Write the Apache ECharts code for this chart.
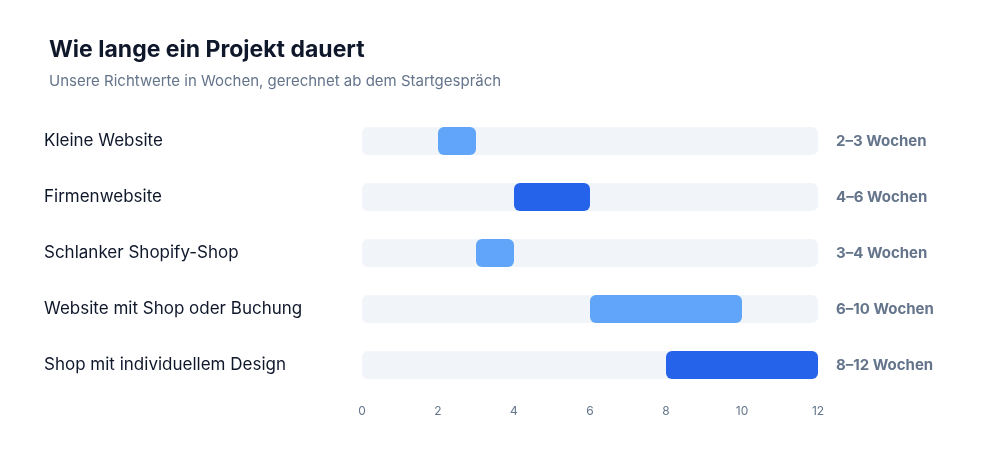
<!DOCTYPE html>
<html><head><meta charset="utf-8">
<script src="https://cdn.jsdelivr.net/npm/echarts@6/dist/echarts.min.js"></script>
<style>html,body{margin:0;background:#fff}#c{width:1000px;height:450px}</style>
</head><body><div id="c"></div>
<script>
const categories = ['Kleine Website','Firmenwebsite','Schlanker Shopify-Shop','Website mit Shop oder Buchung','Shop mit individuellem Design'];
const startWeeks = [2,4,3,6,8];
const endWeeks = [3,6,4,10,12];
const tones = ['light','dark','light','light','dark'];
const rangeLabels = ['2–3 Wochen','4–6 Wochen','3–4 Wochen','6–10 Wochen','8–12 Wochen'];
const maxWeeks = 12;
const toneColor = {light:'#60a5fa', dark:'#2563eb'};
const F = 'Inter, "Noto Sans", sans-serif';
const chart = echarts.init(document.getElementById('c'));
chart.setOption({
  animation:false,
  textStyle:{fontFamily:F},
  title:{left:44, top:34, text:'Wie lange ein Projekt dauert', subtext:'Unsere Richtwerte in Wochen, gerechnet ab dem Startgespräch',
    textStyle:{fontSize:23,fontWeight:'bold',color:'#0f172a',fontFamily:F},
    subtextStyle:{fontSize:15,color:'#64748b',fontFamily:F}, itemGap:12},
  grid:{left:362, width:456, top:113, height:280},
  xAxis:{type:'value', min:0, max:maxWeeks, interval:2, splitLine:{show:false}, axisLine:{show:false}, axisTick:{show:false},
    axisLabel:{color:'#64748b', fontSize:12, margin:12}},
  yAxis:[
    {type:'category', inverse:true, data:categories, axisLine:{show:false}, axisTick:{show:false},
     axisLabel:{align:'left', margin:318, color:'#0f172a', fontSize:17}},
    {type:'category', inverse:true, position:'right', data:rangeLabels, axisLine:{show:false}, axisTick:{show:false},
     axisLabel:{align:'left', margin:18, color:'#64748b', fontSize:15, fontWeight:'bold'}}
  ],
  series:[
    {type:'bar', data:categories.map(()=>maxWeeks), barWidth:28, barGap:'-100%', silent:true,
     itemStyle:{color:'#f1f5f9', borderRadius:6}},
    {type:'bar', stack:'r', data:startWeeks, barWidth:28, itemStyle:{color:'transparent'}},
    {type:'bar', stack:'r', barWidth:28,
     data:endWeeks.map((e,i)=>({value:e-startWeeks[i], itemStyle:{color:toneColor[tones[i]], borderRadius:6}}))}
  ]
});
</script></body></html>
